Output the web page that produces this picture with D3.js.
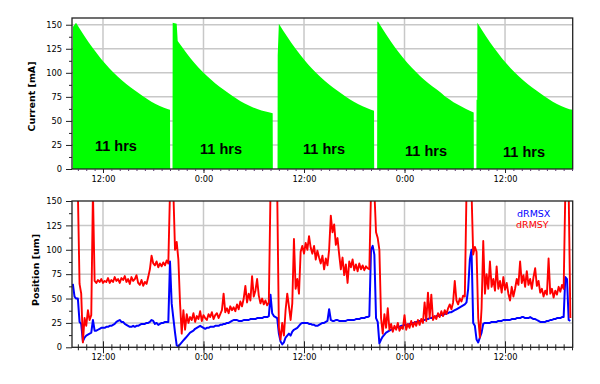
<!DOCTYPE html>
<html><head><meta charset="utf-8">
<script src="https://cdn.jsdelivr.net/npm/d3@7"></script>
<style>body{margin:0;background:#fff}</style>
</head><body><svg id="c" width="600" height="384"></svg>
<script>
// ---------- data ----------
const hourTicks = [12, 24, 36, 48, 60];
const hourTickLabels = ["12:00", "0:00", "12:00", "0:00", "12:00"];
const currentTicks = [0, 25, 50, 75, 100, 125, 150];
const positionTicks = [0, 25, 50, 75, 100, 125, 150];
const fillLabel = "11 hrs";
const fillLabelHour = [13.55, 26.09, 38.39, 50.57, 62.27];
const fillLabelLevel = [18.7, 15.6, 15.6, 13.5, 12.5];
const seriesNames = ["dRMSX", "dRMSY"];

// beam current [hour, mA]
const currentData = [
 [8.40,0],[8.42,148],[8.78,152],[9.28,145],[9.78,138.3],[10.28,131.9],[10.78,125.8],[11.28,120],[11.78,114.5],[12.28,109.4],[12.78,104.6],[13.28,100.1],[13.78,95.9],[14.28,92],[14.78,88.4],[15.28,85],[15.78,81.8],[16.28,78.7],[16.78,75.7],[17.28,72.8],[17.78,70],[18.28,67.7],[18.78,65.6],[19.28,63.7],[19.78,62],[20.0,61.6],[20.02,0],
 [20.30,0],[20.32,152],[20.80,151],[20.92,133],[21.42,127],[21.92,121],[22.42,115.5],[22.92,110.3],[23.42,105.4],[23.92,100.9],[24.42,96.6],[24.92,92.7],[25.42,89],[25.92,85.6],[26.42,82.4],[26.92,79.2],[27.42,76.2],[27.92,73.3],[28.42,70.5],[28.92,68.1],[29.42,66],[29.92,64],[30.42,62.3],[30.92,60.9],[31.42,59.7],[31.92,58.7],[32.26,58],[32.28,0],
 [32.84,0],[32.86,118],[33.0,151],[33.5,144],[34.0,137.4],[34.5,131],[35.0,125],[35.5,119.2],[36.0,113.8],[36.5,108.7],[37.0,104],[37.5,99.5],[38.0,95.4],[38.5,91.5],[39.0,87.9],[39.5,84.5],[40.0,81.3],[40.5,78.2],[41.0,75.2],[41.5,72.3],[42.0,69.6],[42.5,67.3],[43.0,65.2],[43.5,63.3],[44.0,61.7],[44.36,60.6],[44.38,0],
 [44.73,0],[44.75,153],[44.85,153],[45.35,146],[45.85,139.2],[46.35,132.8],[46.85,126.7],[47.35,120.9],[47.85,115.4],[48.35,110.3],[48.85,105.5],[49.35,101],[49.85,96.8],[50.35,92.9],[50.85,89.2],[51.35,85.8],[51.85,82.6],[52.35,79.3],[52.85,75.5],[53.35,72.4],[53.85,69.5],[54.35,67],[54.85,64.6],[55.35,62.4],[55.85,60.4],[56.26,58.8],[56.28,0],
 [56.58,0],[56.6,72],[56.68,72],[56.7,152],[57.2,145],[57.7,138.3],[58.2,131.9],[58.7,125.8],[59.2,120],[59.7,114.5],[60.2,109.4],[60.7,104.6],[61.2,100.1],[61.7,95.9],[62.2,92],[62.7,88.4],[63.2,85],[63.7,81.8],[64.2,78.7],[64.7,75.7],[65.2,72.8],[65.7,70],[66.2,67.7],[66.7,65.6],[67.2,63.7],[67.7,62],[68.08,61.6],[68.08,0]
];

// position samples: start hour and step (hours)
const posStartHour = 8.4;
const posStepHour = 0.2;
const dRMSX = [
 65,52,50,50,26,24,6,10,12,13, 14,15,28,17,17,18,19,20,20,20, 21,21,22,22,23,24,26,27,28,26,
 26,24,23,22,21,21,22,21,22,22, 23,24,24,24,25,25,26,28,27,24, 25,23,24,25,25,26,26,26,88,
 45,30,15,2,1,3,5,7,9,11, 13,15,16,17,19,20,21,22,21,20, 19,20,20,21,21,21,22,22,22,23,
 23,24,24,25,25,26,27,28,28,28, 27,27,27,28,28,28,28,29,29,29, 29,30,30,30,30,31,31,31,32,54,
 35,32,31,30,14,6,3,5,10,12, 14,12,16,18,19,20,22,24,25,25, 25,25,24,24,23,23,22,22,23,24,
 25,25,26,27,39,28,27,27,28,28, 27,27,27,27,27,28,28,28,28,28, 29,29,29,30,30,30,31,31,32,100,
 104,95,30,26,4,8,11,13,15,16, 17,18,19,20,20,21,21,22,22,23, 23,23,24,24,25,25,26,26,27,27,
 28,28,29,29,30,30,31,31,32,32, 33,33,34,34,35,35,36,36,37,38, 39,40,41,42,43,44,46,60,90,100,
 25,22,8,5,10,15,24,25,25,25, 25,26,26,26,26,27,27,27,28,28, 28,28,28,29,29,29,30,30,30,31,
 31,30,30,30,31,30,29,29,28,27, 26,26,26,26,27,27,28,28,29,29, 30,30,30,31,31,72,70,28,27
];
const dRMSY = [
 160,160,160,160,65,55,5,30,22,38, 28,33,160,68,66,69,67,70,66,68, 67,71,66,69,67,72,68,70,66,71,
 69,73,67,70,65,72,68,70,74,66, 64,69,63,67,65,72,80,94,86,84, 88,82,86,83,87,84,89,86,160,
 160,160,100,108,90,45,14,38,18,34, 25,31,28,35,26,32,29,37,27,33, 30,28,34,31,36,29,33,35,30,34,
 38,55,36,40,35,42,38,41,37,44, 39,47,42,50,63,46,55,48,73,52, 58,70,53,45,50,44,48,43,46,160,
 160,160,160,160,20,8,25,12,38,55, 42,28,45,111,60,70,55,98,104,96, 107,100,114,102,96,104,90,99,92,86,
 94,80,91,84,100,135,118,126,105,112, 95,80,92,74,85,66,88,82,90,79, 85,78,86,80,84,79,83,81,80,160,
 160,160,118,112,100,30,14,34,20,40, 18,24,16,22,18,25,17,21,19,33, 18,24,20,27,21,26,22,28,23,29,
 25,46,27,56,30,54,28,32,29,35, 31,37,32,38,34,40,44,39,46,68, 48,44,50,47,53,52,160,160,160,160,
 95,103,98,30,10,40,109,55,75,60, 88,62,70,58,83,60,68,56,72,59, 66,55,48,62,52,60,70,64,88,66,
 74,62,78,64,70,60,72,81,63,68, 56,60,52,58,54,91,55,60,51,58, 54,62,57,64,60,160,160,160,30
];

// ---------- drawing ----------
const svg = d3.select("#c");
const L = 72, R = 572.7;
const x = d3.scaleLinear().domain([8.3, 68.08]).range([L, R]);
const yTop = d3.scaleLinear().domain([0, 157]).range([169, 18]);
const yBot = d3.scaleLinear().domain([0, 150]).range([347.3, 201]);
const tickFont = "DejaVu Sans, Verdana, sans-serif";
const gridCol = "#c8c8c8";

function panel(yScale, gridVals) {
  const g = svg.append("g");
  g.selectAll("line.hg").data(gridVals).enter().append("line")
    .attr("x1", L).attr("x2", R)
    .attr("y1", d => yScale(d)).attr("y2", d => yScale(d))
    .attr("stroke", gridCol).attr("stroke-width", 1.5);
  g.selectAll("line.vg").data(hourTicks).enter().append("line")
    .attr("x1", d => x(d)).attr("x2", d => x(d))
    .attr("y1", yScale.range()[0]).attr("y2", yScale.range()[1])
    .attr("stroke", gridCol).attr("stroke-width", 1.5);
  return g;
}

// top panel
panel(yTop, [25, 50, 75, 100, 125, 150]);
svg.append("path").datum(currentData)
  .attr("d", d3.area().x(d => x(d[0])).y0(yTop(0)).y1(d => yTop(d[1])))
  .attr("fill", "#00ff00");
svg.selectAll("text.fl").data(fillLabelHour).enter().append("text")
  .attr("x", d => x(d)).attr("y", (d, i) => yTop(fillLabelLevel[i]))
  .attr("text-anchor", "middle")
  .attr("font-family", "Liberation Sans, Arial, sans-serif")
  .attr("font-weight", "bold").attr("font-size", 14.5)
  .text(fillLabel);

// bottom panel
panel(yBot, [25, 50, 75, 100, 125]);
svg.append("clipPath").attr("id", "clipB").append("rect")
  .attr("x", L).attr("y", 201).attr("width", R - L).attr("height", 347.3 - 201);
const posLine = d3.line().x((d, i) => x(posStartHour + i * posStepHour)).y(d => yBot(d));
const lines = svg.append("g").attr("clip-path", "url(#clipB)");
lines.append("path").attr("d", posLine(dRMSX)).attr("fill", "none")
  .attr("stroke", "#0000ff").attr("stroke-width", 2).attr("stroke-linejoin", "round");
lines.append("path").attr("d", posLine(dRMSY)).attr("fill", "none")
  .attr("stroke", "#ff0000").attr("stroke-width", 1.9).attr("stroke-linejoin", "round");

// legend
svg.append("text").attr("x", 517).attr("y", 217).attr("font-family", tickFont)
  .attr("font-size", 9.5).attr("fill", "#0000ff").text(seriesNames[0]);
svg.append("text").attr("x", 516).attr("y", 228).attr("font-family", tickFont)
  .attr("font-size", 9.5).attr("fill", "#ff0000").text(seriesNames[1]);

// frames
svg.append("rect").attr("x", L).attr("y", 18).attr("width", R - L).attr("height", 151)
  .attr("fill", "none").attr("stroke", "#222").attr("stroke-width", 1.3);
svg.append("rect").attr("x", L).attr("y", 201).attr("width", R - L).attr("height", 347.3 - 201)
  .attr("fill", "none").attr("stroke", "#222").attr("stroke-width", 1.3);

const minorHours = d3.range(9, 69);
function styleAxis(g) {
  g.select(".domain").remove();
  g.selectAll("text").attr("font-family", tickFont).attr("font-size", 8.3).attr("fill", "#000");
  g.selectAll("line").attr("stroke", "#222");
}

// top x axis
svg.append("g").attr("transform", "translate(0,169)")
  .call(d3.axisBottom(x).tickValues(minorHours).tickSize(2).tickFormat(""))
  .call(styleAxis).call(g => g.selectAll("line").attr("stroke", "#5a3a6a"));
svg.append("g").attr("transform", "translate(0,169)")
  .call(d3.axisBottom(x).tickValues(hourTicks).tickSize(4).tickPadding(3.5)
    .tickFormat((d, i) => hourTickLabels[i]))
  .call(styleAxis);

// bottom x axis (crossing ticks)
svg.append("g").attr("transform", "translate(0,347.3)")
  .call(d3.axisBottom(x).tickValues(minorHours).tickSize(3).tickFormat(""))
  .call(styleAxis).call(g => g.selectAll("line").attr("y1", -3));
svg.append("g").attr("transform", "translate(0,347.3)")
  .call(d3.axisBottom(x).tickValues(hourTicks).tickSize(6).tickPadding(1)
    .tickFormat((d, i) => hourTickLabels[i]))
  .call(styleAxis).call(g => g.selectAll("line").attr("y1", -6));

// y axes
function yAxes(scale, ticks) {
  const minor = ticks.slice(0, -1).map(d => d + 12.5);
  svg.append("g").attr("transform", `translate(${L},0)`)
    .call(d3.axisLeft(scale).tickValues(minor).tickSize(3).tickFormat(""))
    .call(styleAxis);
  svg.append("g").attr("transform", `translate(${L},0)`)
    .call(d3.axisLeft(scale).tickValues(ticks).tickSize(6).tickPadding(4))
    .call(styleAxis);
}
yAxes(yTop, currentTicks);
yAxes(yBot, positionTicks);

// axis titles
svg.append("text").attr("transform", "translate(34.5,96.5) rotate(-90)")
  .attr("text-anchor", "middle").attr("font-family", tickFont)
  .attr("font-weight", "bold").attr("font-size", 9.5).text("Current [mA]");
svg.append("text").attr("transform", "translate(38.5,270) rotate(-90)")
  .attr("text-anchor", "middle").attr("font-family", tickFont)
  .attr("font-weight", "bold").attr("font-size", 9.5).text("Position [um]");
</script>
</body></html>
